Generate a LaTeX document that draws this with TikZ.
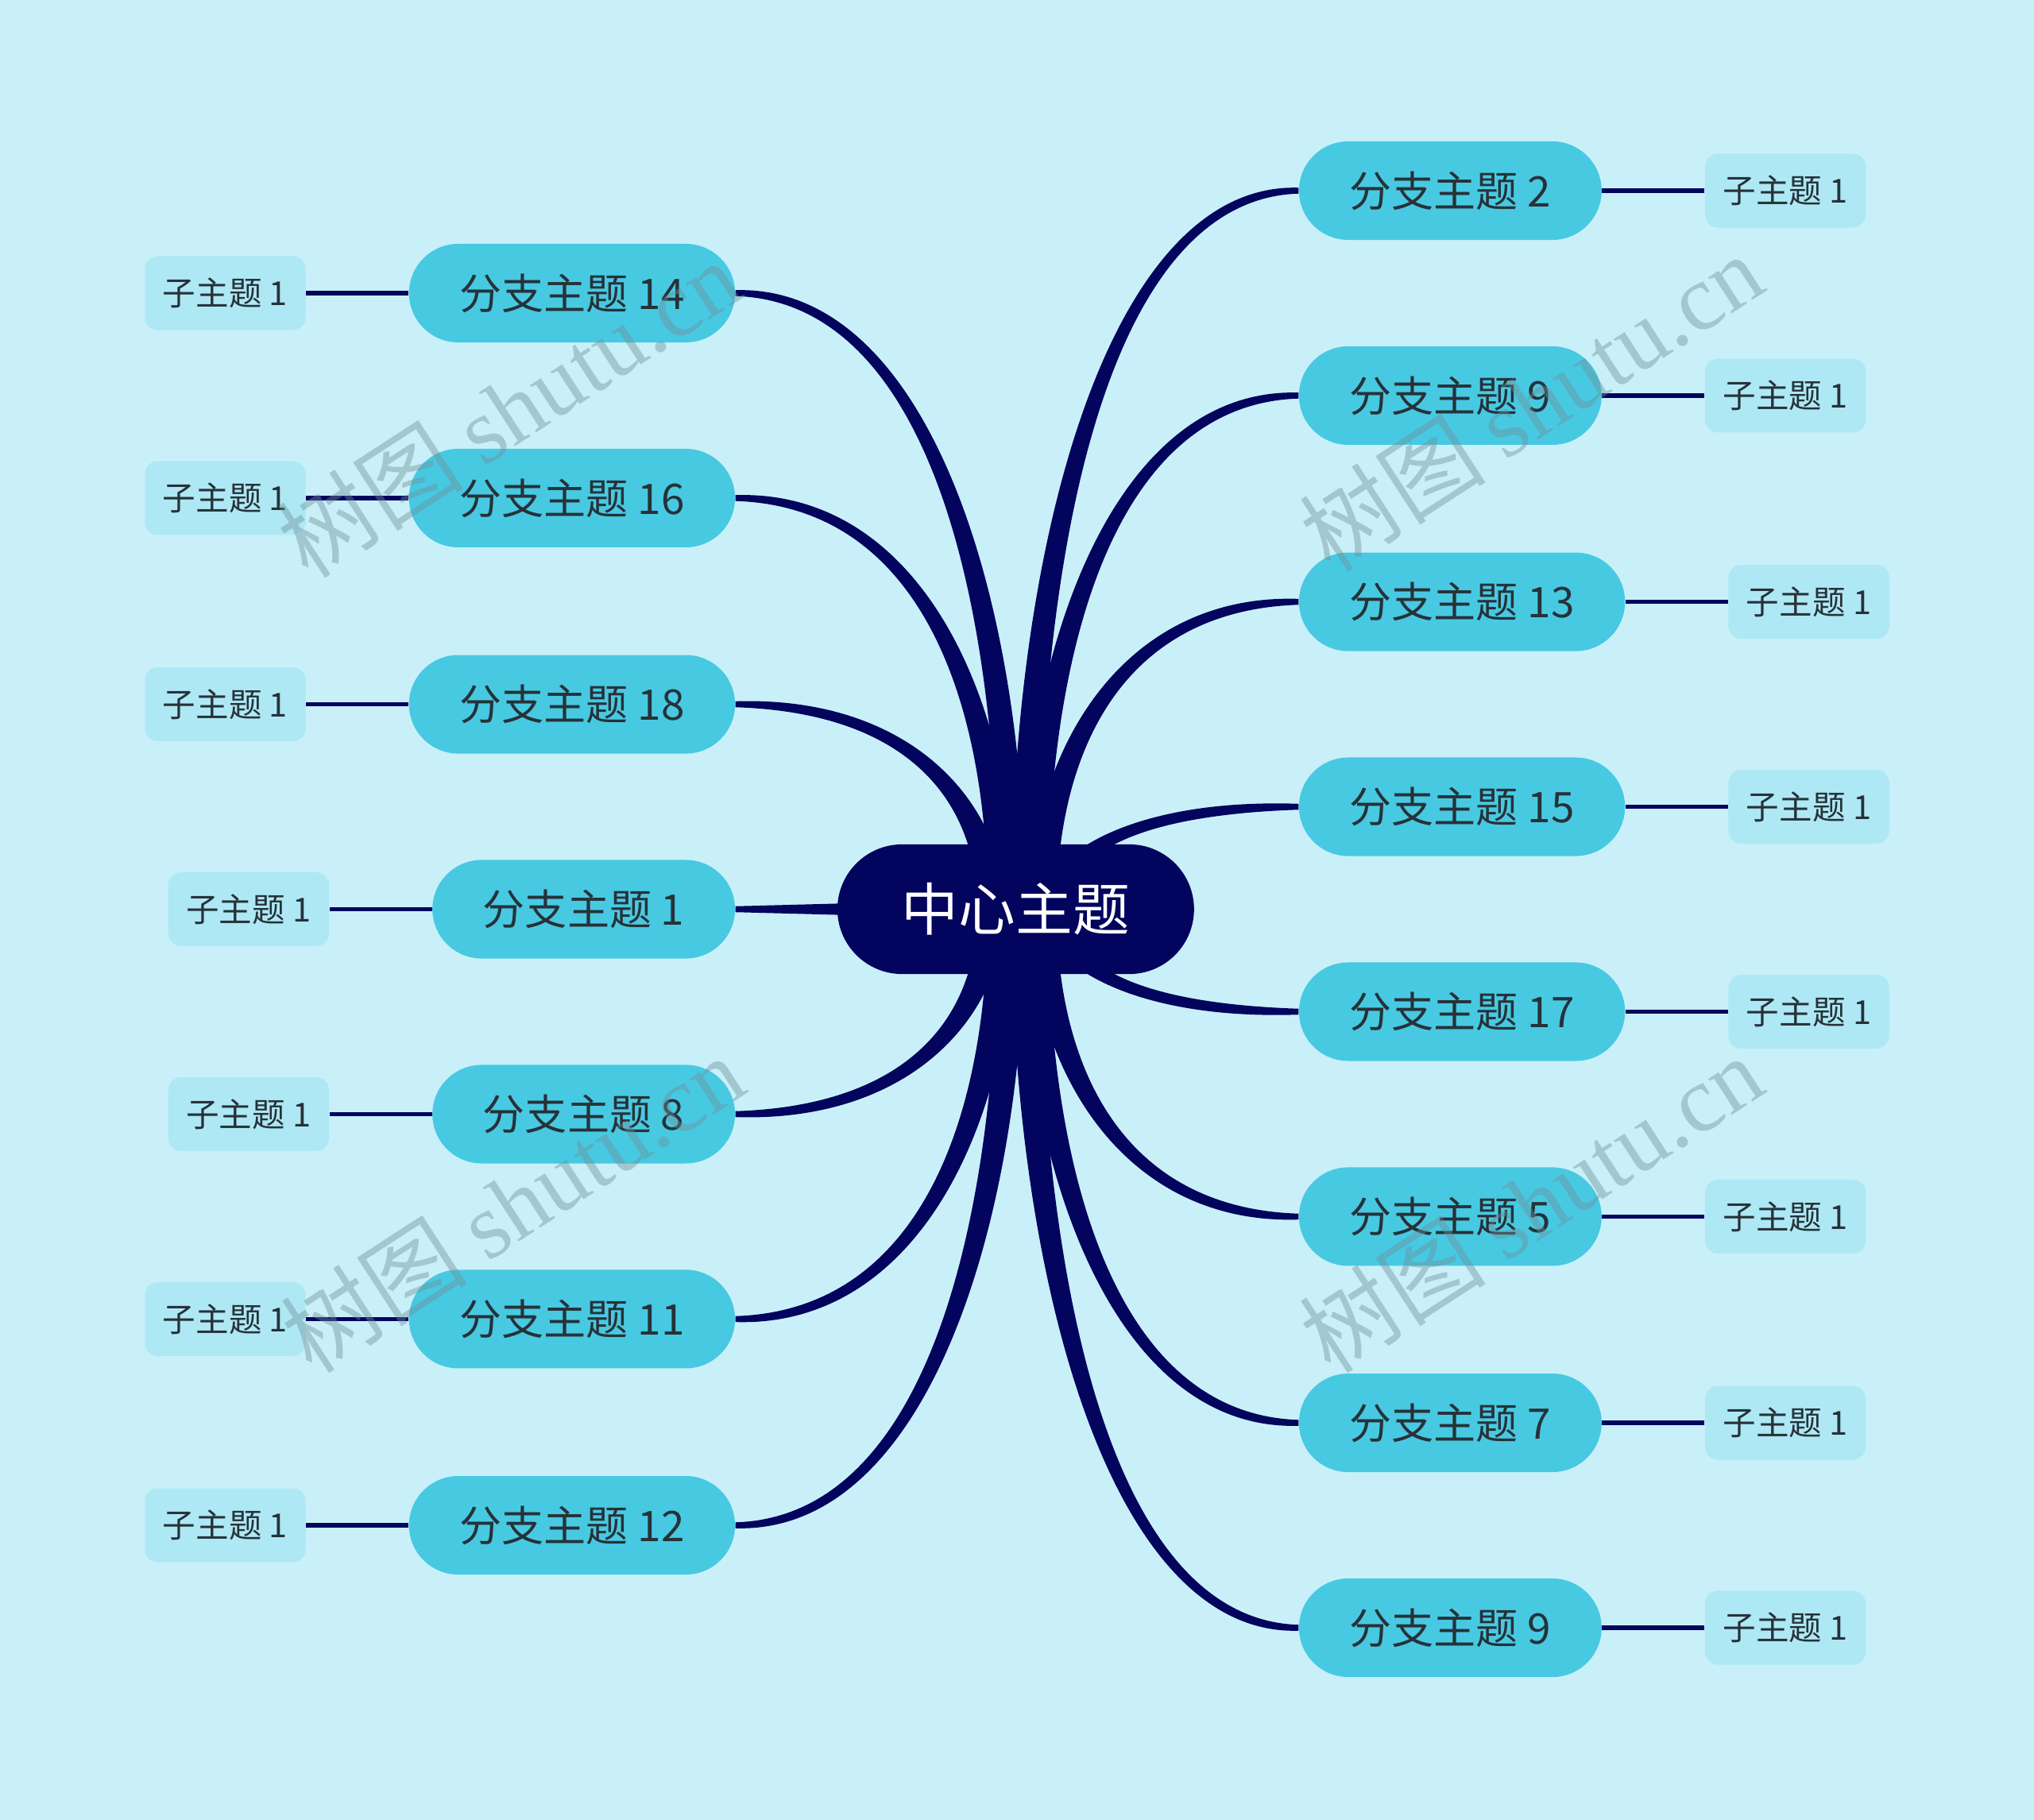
\documentclass[tikz,border=0pt]{standalone}
\usepackage{fontspec}
\setmainfont{Noto Sans CJK SC}
\newfontfamily\wmfont{Liberation Serif}
\usepackage{tikz}
\usetikzlibrary{positioning, calc}
\definecolor{MMbg}{HTML}{C9F0F8}
\definecolor{MMnavy}{HTML}{03045E}
\definecolor{MMcyan}{HTML}{48C9E2}
\definecolor{MMpale}{HTML}{AEE8F5}
\definecolor{MMtext}{HTML}{263238}
\definecolor{MMwm}{HTML}{6F8F98}
\tikzstyle{centre} = [rectangle, rounded corners=1cm, minimum width=5.5cm, minimum height=2cm, text centered, fill=MMnavy, text=white, font=\fontsize{25}{30}\selectfont]
\tikzstyle{branch} = [rectangle, rounded corners=0.76cm, minimum height=1.52cm, inner xsep=0.78cm, text centered, fill=MMcyan, text=MMtext, font=\fontsize{18.5}{22}\selectfont]
\tikzstyle{subtopic} = [rectangle, rounded corners=0.2cm, minimum width=2.48cm, minimum height=1.14cm, text centered, fill=MMpale, text=MMtext, font=\fontsize{14.5}{18}\selectfont]
\tikzstyle{link} = [line width=1.8pt, draw=MMnavy]
\tikzstyle{stamp} = [rotate=33, text=MMwm, opacity=0.42, font=\fontsize{41}{46}\selectfont]
\pgfdeclarelayer{bg}
\pgfsetlayers{bg,main}
% tapered trunk from a start point to a branch anchor
\newcommand{\trunk}[2]{%
  \fill[MMnavy] let \p1=(#1), \p2=(#2), \n1={sign(\x2-\x1)*sign(\y2-\y1)} in
    (\x1-6pt,\y1) .. controls (\x1-6pt,{0.5*\y1+0.5*\y2}) and ({0.7*\x1+0.3*\x2},{\y2+\n1*3.8pt}) .. (\x2,{\y2+\n1*1.3pt})
    -- (\x2,{\y2-\n1*1.3pt}) .. controls ({0.7*\x1+0.3*\x2},{\y2-\n1*3.8pt}) and (\x1+6pt,{0.5*\y1+0.5*\y2}) .. (\x1+6pt,\y1) -- cycle;}

\begin{document}
\begin{tikzpicture}[x=0.02cm, y=-0.02cm]

\node (c) [centre] at (783,701) {中心主题};

% left branches
\node (b14) [branch, anchor=east] at (567,226) {分支主题 14};
\node (b16) [branch, anchor=east] at (567,384) {分支主题 16};
\node (b18) [branch, anchor=east] at (567,543) {分支主题 18};
\node (b1) [branch, anchor=east] at (567,701) {分支主题 1};
\node (b8) [branch, anchor=east] at (567,859) {分支主题 8};
\node (b11) [branch, anchor=east] at (567,1017) {分支主题 11};
\node (b12) [branch, anchor=east] at (567,1176) {分支主题 12};

% right branches
\node (b2) [branch, anchor=west] at (1001,147) {分支主题 2};
\node (b9) [branch, anchor=west] at (1001,305) {分支主题 9};
\node (b13) [branch, anchor=west] at (1001,464) {分支主题 13};
\node (b15) [branch, anchor=west] at (1001,622) {分支主题 15};
\node (b17) [branch, anchor=west] at (1001,780) {分支主题 17};
\node (b5) [branch, anchor=west] at (1001,938) {分支主题 5};
\node (b7) [branch, anchor=west] at (1001,1097) {分支主题 7};
\node (b9b) [branch, anchor=west] at (1001,1255) {分支主题 9};

% subtopics
\node (s14) [subtopic, left=1.58cm of b14] {子主题 1};
\node (s16) [subtopic, left=1.58cm of b16] {子主题 1};
\node (s18) [subtopic, left=1.58cm of b18] {子主题 1};
\node (s1) [subtopic, left=1.58cm of b1] {子主题 1};
\node (s8) [subtopic, left=1.58cm of b8] {子主题 1};
\node (s11) [subtopic, left=1.58cm of b11] {子主题 1};
\node (s12) [subtopic, left=1.58cm of b12] {子主题 1};
\node (s2) [subtopic, right=1.58cm of b2] {子主题 1};
\node (s9) [subtopic, right=1.58cm of b9] {子主题 1};
\node (s13) [subtopic, right=1.58cm of b13] {子主题 1};
\node (s15) [subtopic, right=1.58cm of b15] {子主题 1};
\node (s17) [subtopic, right=1.58cm of b17] {子主题 1};
\node (s5) [subtopic, right=1.58cm of b5] {子主题 1};
\node (s7) [subtopic, right=1.58cm of b7] {子主题 1};
\node (s9b) [subtopic, right=1.58cm of b9b] {子主题 1};

\draw [link] (b14) -- (s14);
\draw [link] (b16) -- (s16);
\draw [link] (b18) -- (s18);
\draw [link] (b1) -- (s1);
\draw [link] (b8) -- (s8);
\draw [link] (b11) -- (s11);
\draw [link] (b12) -- (s12);
\draw [link] (b2) -- (s2);
\draw [link] (b9) -- (s9);
\draw [link] (b13) -- (s13);
\draw [link] (b15) -- (s15);
\draw [link] (b17) -- (s17);
\draw [link] (b5) -- (s5);
\draw [link] (b7) -- (s7);
\draw [link] (b9b) -- (s9b);

\begin{pgfonlayer}{bg}
\fill [MMbg] (0,0) rectangle (1568,1403);

\coordinate (o14) at (780,701);
\coordinate (o16) at (772,701);
\coordinate (o18) at (764,701);
\coordinate (o8) at (764,701);
\coordinate (o11) at (772,701);
\coordinate (o12) at (780,701);
\coordinate (o2) at (790,701);
\coordinate (o9) at (797,701);
\coordinate (o13) at (804,701);
\coordinate (o15) at (812,701);
\coordinate (o17) at (812,701);
\coordinate (o5) at (804,701);
\coordinate (o7) at (797,701);
\coordinate (o9b) at (790,701);

\trunk{o14}{b14.east}
\trunk{o16}{b16.east}
\trunk{o18}{b18.east}
\trunk{o8}{b8.east}
\trunk{o11}{b11.east}
\trunk{o12}{b12.east}
\trunk{o2}{b2.west}
\trunk{o9}{b9.west}
\trunk{o13}{b13.west}
\trunk{o15}{b15.west}
\trunk{o17}{b17.west}
\trunk{o5}{b5.west}
\trunk{o7}{b7.west}
\trunk{o9b}{b9b.west}
\fill [MMnavy] ($(c.center)+(0,4.5pt)$) -- ($(b1.east)+(0,1.3pt)$) -- ($(b1.east)+(0,-1.3pt)$) -- ($(c.center)+(0,-4.5pt)$) -- cycle;
\end{pgfonlayer}

% watermark
\node (w1) [stamp] at (392,315) {树图 {\wmfont shutu.cn}};
\node (w2) [stamp] at (395,928) {树图 {\wmfont shutu.cn}};
\node (w3) [stamp] at (1180,310) {树图 {\wmfont shutu.cn}};
\node (w4) [stamp] at (1180,928) {树图 {\wmfont shutu.cn}};

\end{tikzpicture}
\end{document}
